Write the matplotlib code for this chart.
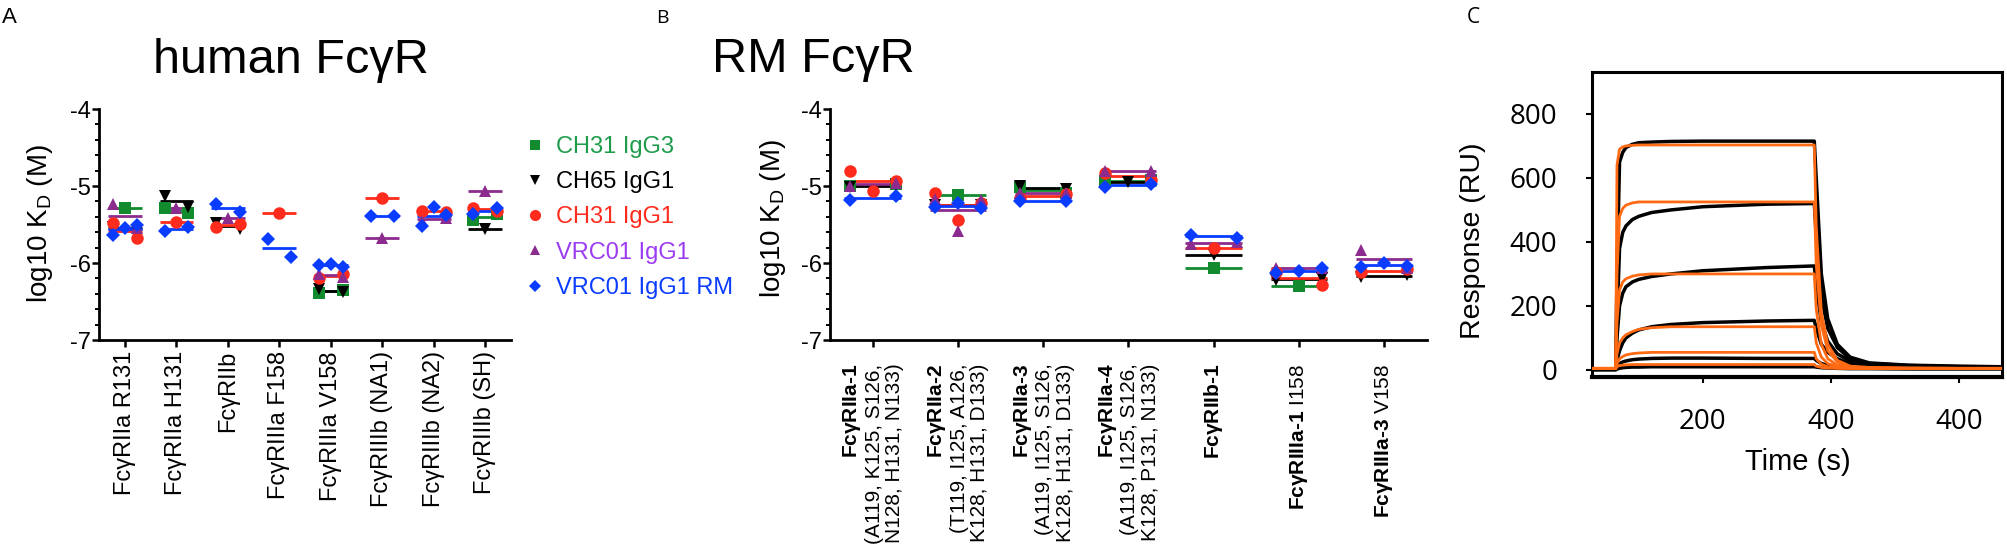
import numpy as np
import matplotlib
matplotlib.use('Agg')
from matplotlib import pyplot as plt
from matplotlib.lines import Line2D
from matplotlib.ticker import MultipleLocator

plt.rcParams.update({
    'font.family': ['Liberation Sans', 'DejaVu Sans'],
    'mathtext.fontset': 'custom',
    'mathtext.rm': 'Liberation Sans',
    'mathtext.bf': 'Liberation Sans:bold',
    'mathtext.it': 'Liberation Sans:italic',
    'axes.unicode_minus': False,
})

# ---- data ----
series = ['CH31 IgG3', 'CH65 IgG1', 'CH31 IgG1', 'VRC01 IgG1', 'VRC01 IgG1 RM']

human_cats = ['FcγRIIa R131', 'FcγRIIa H131', 'FcγRIIb', 'FcγRIIIa F158',
              'FcγRIIIa V158', 'FcγRIIIb (NA1)', 'FcγRIIIb (NA2)', 'FcγRIIIb (SH)']
# log10 KD per category, one list per antibody
h_ch31_igg3 = [[-5.28], [-5.29, -5.35], [], [], [-6.39, -6.35], [], [], [-5.44, -5.36]]
h_ch65_igg1 = [[-5.53, -5.57], [-5.13, -5.27], [-5.48, -5.56], [], [-6.34, -6.38], [], [], [-5.56]]
h_ch31_igg1 = [[-5.48, -5.68], [-5.47], [-5.53, -5.49], [-5.35], [-6.19, -6.14], [-5.15],
               [-5.32, -5.34], [-5.28, -5.32]]
h_vrc01_igg1 = [[-5.23, -5.55], [-5.29], [-5.42], [], [-6.14, -6.18], [-5.67], [-5.45, -5.41], [-5.07]]
h_vrc01_rm = [[-5.63, -5.55, -5.50], [-5.59, -5.53], [-5.23, -5.34], [-5.69, -5.92],
              [-6.03, -6.01, -6.05], [-5.39, -5.39], [-5.52, -5.27, -5.38], [-5.37, -5.29]]

rm_cats = ['$\\mathbf{FcγRIIa‐1}$\n(A119, K125, S126,\nN128, H131, N133)',
           '$\\mathbf{FcγRIIa‐2}$\n(T119, I125, A126,\nK128, H131, D133)',
           '$\\mathbf{FcγRIIa‐3}$\n(A119, I125, S126,\nK128, H131, D133)',
           '$\\mathbf{FcγRIIa‐4}$\n(A119, I125, S126,\nK128, P131, N133)',
           '$\\mathbf{FcγRIIb‐1}$',
           '$\\mathbf{FcγRIIIa‐1}$ I158',
           '$\\mathbf{FcγRIIIa‐3}$ V158']
r_ch31_igg3 = [[-5.00, -4.98], [-5.12], [-5.01, -5.09], [-4.94, -4.92], [-6.06], [-6.30], []]
r_ch65_igg1 = [[-5.01, -4.99], [-5.25, -5.25], [-5.00, -5.04], [-4.95], [-5.90], [-6.22, -6.20],
               [-6.18, -6.16]]
r_ch31_igg1 = [[-4.81, -5.06, -4.93], [-5.09, -5.44, -5.22], [-5.16, -5.10], [-4.83, -4.92],
               [-5.81], [-6.12, -6.28], [-6.12, -6.08]]
r_vrc01_igg1 = [[-5.00, -4.96], [-5.17, -5.58, -5.18], [-5.09, -5.09], [-4.80, -4.80],
                [-5.75, -5.73], [-6.06, -6.07], [-5.83, -6.07]]
r_vrc01_rm = [[-5.18, -5.13], [-5.27, -5.22, -5.29], [-5.19, -5.19], [-5.01, -4.97],
              [-5.63, -5.67], [-6.13, -6.10, -6.07], [-6.05, -6.00, -6.04]]

# SPR sensorgram
spr_time = [27, 64, 66, 70, 75, 80, 90, 100, 120, 150, 200, 300, 374, 377, 385, 395, 410, 430,
            460, 520, 600, 667]
spr_data = [
    [3, 3, 300, 650, 680, 695, 705, 710, 712, 714, 715, 715, 715, 600, 300, 160, 80, 40, 22, 15, 12, 10],
    [3, 3, 150, 380, 430, 450, 470, 480, 492, 500, 510, 518, 520, 420, 230, 130, 70, 35, 20, 14, 10, 8],
    [3, 3, 100, 200, 240, 260, 275, 283, 292, 300, 310, 320, 325, 260, 150, 90, 50, 28, 18, 12, 9, 7],
    [3, 3, 30, 60, 85, 100, 115, 125, 135, 142, 148, 153, 155, 130, 80, 55, 35, 20, 14, 10, 8, 6],
    [3, 3, 10, 20, 25, 28, 32, 34, 36, 37, 37, 36, 36, 30, 20, 15, 12, 9, 7, 6, 5, 5],
    [0, 0, 3, 5, 7, 8, 9, 9, 10, 10, 10, 10, 10, 9, 7, 6, 5, 4, 4, 3, 3, 3],
]
spr_fit = [
    [5, 5, 640, 690, 697, 700, 702, 703, 703, 703, 703, 703, 703, 450, 180, 80, 30, 12, 8, 6, 5, 5],
    [5, 5, 300, 480, 505, 515, 522, 525, 525, 525, 525, 525, 525, 330, 140, 60, 25, 10, 7, 6, 5, 5],
    [5, 5, 150, 250, 275, 285, 293, 297, 300, 300, 300, 300, 300, 190, 80, 35, 15, 8, 6, 5, 5, 5],
    [5, 5, 50, 85, 100, 110, 120, 127, 132, 135, 135, 135, 135, 85, 40, 20, 10, 6, 5, 5, 5, 5],
    [5, 5, 20, 35, 42, 47, 51, 53, 55, 55, 55, 55, 55, 35, 18, 10, 6, 5, 5, 5, 5, 5],
    [5, 5, 10, 14, 15, 16, 17, 17, 17, 17, 17, 17, 17, 12, 8, 6, 5, 5, 5, 5, 5, 5],
]

# ---- style ----
markers = ['s', 'v', 'o', '^', 'D']
mcolors = ['#128a2e', '#000000', '#ff2b1c', '#8c2b8e', '#0a3cff']
tcolors = ['#1e9c4c', '#000000', '#ff2b1c', '#9b3cf2', '#0a3cff']
msizes = [8, 8, 9, 8, 7]

W, H = 2008, 558
fig = plt.figure(figsize=(W / 100, H / 100), dpi=100)


def fx(px):
    return px / W


def fy(py):
    return 1 - py / H


def box(x0, y0, x1, y1):
    return [fx(x0), fy(y1), fx(x1) - fx(x0), fy(y0) - fy(y1)]


def draw_kd(ax, groups, spread):
    for k, vals in enumerate(groups):
        for i, v in enumerate(vals):
            if not v:
                continue
            offs = {1: [0.0], 2: [-spread, spread], 3: [-spread, 0.0, spread]}[len(v)]
            ax.hlines(np.mean(v), i - 0.33, i + 0.33, color=mcolors[k], lw=2, zorder=2)
            ax.plot(i + np.array(offs), v, ls='none', marker=markers[k], color=mcolors[k],
                    ms=msizes[k], mew=0, zorder=3)


def style_kd(ax, n):
    ax.set_xlim(-0.5, n - 0.5)
    ax.set_ylim(-7, -4)
    ax.set_yticks([-4, -5, -6, -7])
    ax.yaxis.set_minor_locator(MultipleLocator(0.2))
    for s in ['top', 'right']:
        ax.spines[s].set_visible(False)
    for s in ['left', 'bottom']:
        ax.spines[s].set_linewidth(2)
    ax.tick_params(axis='y', which='major', length=5, width=1.8, pad=1, labelsize=17)
    ax.tick_params(axis='y', which='minor', length=3, width=1.4)
    ax.tick_params(axis='x', which='major', length=5, width=1.8)


# ---- panel A ----
ax_a = fig.add_axes(box(99.3, 109, 511, 340))
draw_kd(ax_a, [h_ch31_igg3, h_ch65_igg1, h_ch31_igg1, h_vrc01_igg1, h_vrc01_rm], 0.23)
style_kd(ax_a, len(human_cats))
ax_a.set_xticks(range(len(human_cats)))
ax_a.set_xticklabels(human_cats, rotation=90, fontsize=17)
ax_a.tick_params(axis='x', pad=3)

handles = [Line2D([], [], ls='none', marker=markers[k], color=mcolors[k], ms=msizes[k] - 1, mew=0)
           for k in range(len(series))]
ax_a.legend(handles, series, loc='upper left', bbox_to_anchor=(fx(526), fy(136)),
            bbox_transform=fig.transFigure, frameon=False, borderpad=0, borderaxespad=0,
            handlelength=0.8, handletextpad=0.45, labelspacing=0.56, fontsize=17,
            labelcolor=tcolors)

# ---- panel B ----
ax_b = fig.add_axes(box(830, 109, 1426.7, 340))
draw_kd(ax_b, [r_ch31_igg3, r_ch65_igg1, r_ch31_igg1, r_vrc01_igg1, r_vrc01_rm], 0.27)
style_kd(ax_b, len(rm_cats))
ax_b.set_xticks(range(len(rm_cats)))
ax_b.set_xticklabels(rm_cats, rotation=90, fontsize=15, multialignment='right', linespacing=1.1)
ax_b.tick_params(axis='x', pad=12)

for xp, yp in [(40, 224), (773, 219)]:
    fig.text(fx(xp), fy(yp), 'log10 K$_\\mathrm{D}$ (M)', rotation=90, ha='center', va='center',
             fontsize=20)

fig.text(fx(291), fy(73), 'human FcγR', ha='center', va='baseline', fontsize=35)
fig.text(fx(813), fy(72), 'RM FcγR', ha='center', va='baseline', fontsize=35)

# ---- panel C ----
ax_c = fig.add_axes(box(1592, 72, 2002, 377))
for r in spr_data:
    ax_c.plot(spr_time, r, color='black', lw=2.5, zorder=2)
for r in spr_fit:
    ax_c.plot(spr_time, r, color='#ff6a13', lw=2, zorder=3)
ax_c.set_xlim(27, 667)
ax_c.set_ylim(-22, 931)
ax_c.set_xticks([200, 400, 600])
ax_c.set_xticklabels(['200', '400', '400'])
ax_c.set_yticks([0, 200, 400, 600, 800])
for s in ax_c.spines.values():
    s.set_linewidth(2.2)
ax_c.spines['bottom'].set_linewidth(3)
ax_c.tick_params(axis='both', length=4, width=1.5, labelsize=20)
ax_c.tick_params(axis='y', pad=21)
ax_c.tick_params(axis='x', pad=18)
for lab in ax_c.get_xticklabels() + ax_c.get_yticklabels():
    lab.set_fontfamily(['Open Sans', 'DejaVu Sans'])
fig.text(fx(1473), fy(241), 'Response (RU)', rotation=90, ha='center', va='center', fontsize=20.5)
fig.text(fx(1798), fy(462), 'Time (s)', ha='center', va='center', fontsize=21)

# ---- panel letters ----
fig.text(fx(2), fy(23), 'A', fontsize=16, va='baseline')
fig.text(fx(656), fy(23), 'B', fontsize=14, va='baseline', family=['Open Sans', 'DejaVu Sans'])
fig.text(fx(1467), fy(23), 'C', fontsize=15, va='baseline', family=['Open Sans', 'DejaVu Sans'])

fig.savefig('out.png', dpi=100)
